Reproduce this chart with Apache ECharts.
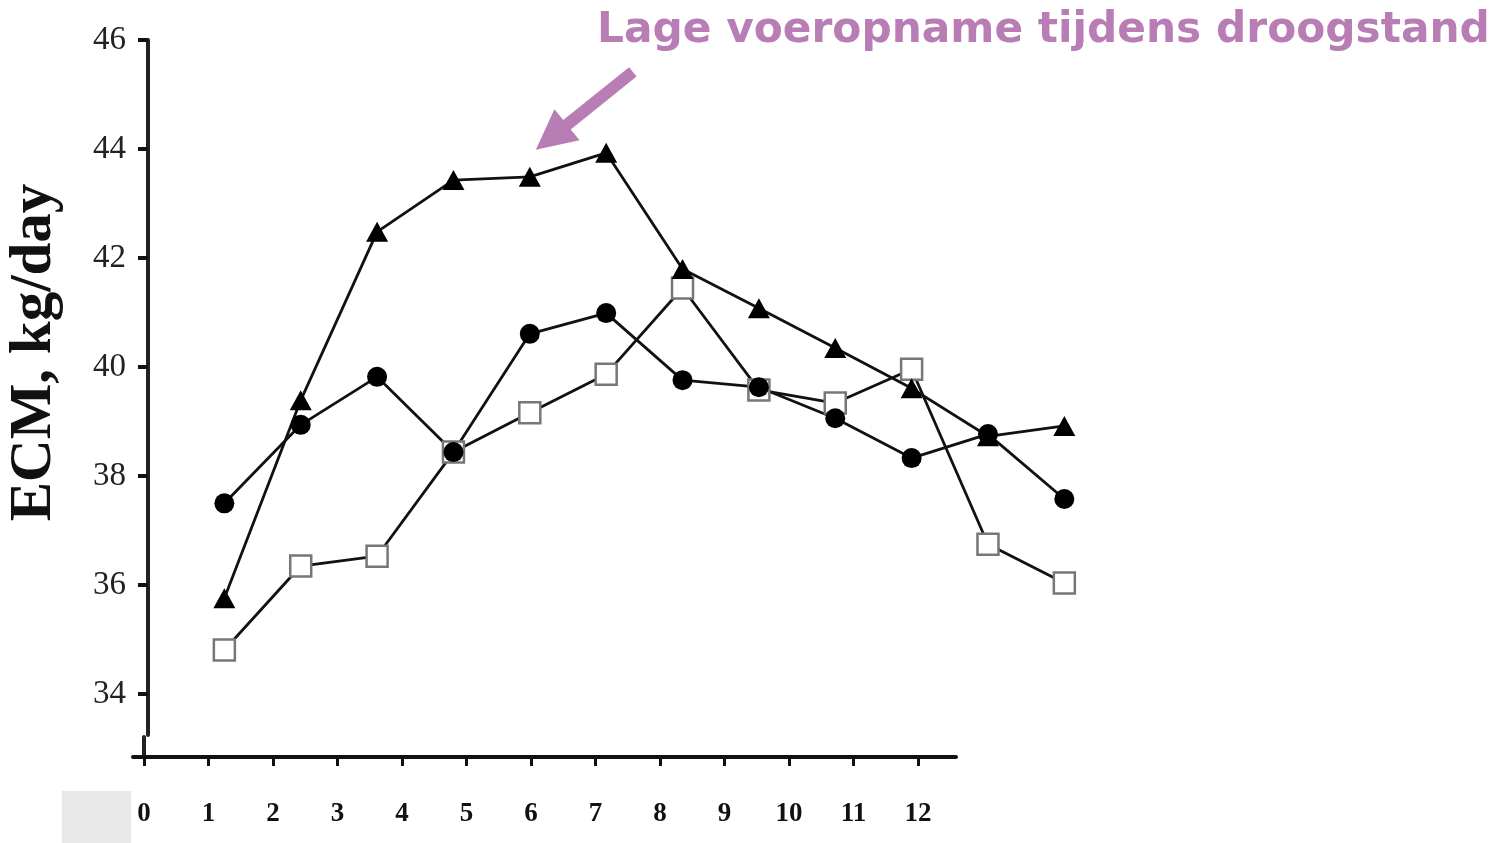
<!DOCTYPE html>
<html>
<head>
<meta charset="utf-8">
<script src="https://cdn.jsdelivr.net/npm/echarts@6/dist/echarts.min.js"></script>
<style>
  html, body { margin: 0; padding: 0; background: #fff; }
  #chart { width: 1497px; height: 843px; }
</style>
</head>
<body>
<div id="chart"></div>
<script>
// Week numbers of the three lactation curves
const weeks = [1, 2, 3, 4, 5, 6, 7, 8, 9, 10, 11, 12];
// ECM (kg/day) per group
const lowIntake = [35.76, 39.39, 42.48, 43.43, 43.49, 43.93, 41.80, 41.08, 40.35, 39.61, 38.73, 38.92]; // filled triangles
const groupCircle = [37.50, 38.94, 39.82, 38.44, 40.61, 40.99, 39.76, 39.63, 39.06, 38.33, 38.77, 37.58]; // filled circles
const groupSquare = [34.81, 36.35, 36.53, 38.44, 39.16, 39.87, 41.45, 39.58, 39.34, 39.96, 36.75, 36.04]; // open squares
// Tick labels
const yTicks = [34, 36, 38, 40, 42, 44, 46];
const xTicks = [0, 1, 2, 3, 4, 5, 6, 7, 8, 9, 10, 11, 12];

const titleText = 'Lage voeropname tijdens droogstand';
const yName = 'ECM, kg/day';
const purple = '#b97db6';

const pairs = vals => weeks.map((w, i) => [w, vals[i]]);

const chart = echarts.init(document.getElementById('chart'), null, { renderer: 'canvas' });

const lineBase = {
  type: 'line',
  xAxisIndex: 0,
  yAxisIndex: 0,
  clip: false,
  lineStyle: { color: '#111', width: 2.8 },
  animation: false
};

const grayBox = { type: 'rect', left: 62, top: 791, shape: { width: 69, height: 52 }, style: { fill: '#e8e8e8' }, silent: true };

chart.setOption({
  backgroundColor: '#fff',
  animation: false,
  title: {
    text: titleText,
    left: 597,
    top: 10,
    padding: 0,
    textStyle: { color: purple, fontFamily: 'DejaVu Sans', fontWeight: 'bold', fontSize: 42.3 }
  },
  grid: [
    // plotting area with the value axis
    { left: 148, top: 40, height: 695, right: 356.3, outerBoundsMode: 'none', containLabel: false },
    // week axis underneath
    { left: 133, top: 737, height: 20, width: 823, outerBoundsMode: 'none', containLabel: false }
  ],
  xAxis: [
    { type: 'value', gridIndex: 0, min: 0, max: 13, show: false },
    {
      type: 'value', gridIndex: 1, min: -0.17, max: 12.59,
      axisLine: { show: true, onZero: false, lineStyle: { color: '#111', width: 4 } },
      axisTick: { show: true, customValues: xTicks, length: 9, lineStyle: { color: '#111', width: 3 } },
      axisLabel: {
        customValues: xTicks, margin: 44, color: '#111',
        fontFamily: 'Liberation Serif', fontWeight: 'bold', fontSize: 27
      },
      splitLine: { show: false }
    }
  ],
  yAxis: [
    {
      type: 'value', gridIndex: 0, min: 33.25, max: 46,
      name: yName, nameLocation: 'middle', nameGap: 84, nameRotate: 90,
      nameTextStyle: {
        color: '#111', fontFamily: 'Liberation Serif', fontWeight: 'bold', fontSize: 59,
        padding: [0, 0, 0, 70]
      },
      axisLine: { show: true, onZero: false, lineStyle: { color: '#222', width: 4 } },
      axisTick: { show: true, customValues: yTicks, length: 10, lineStyle: { color: '#111', width: 4 } },
      axisLabel: {
        customValues: yTicks, margin: 22, color: '#222',
        fontFamily: 'Liberation Serif', fontSize: 33
      },
      splitLine: { show: false }
    },
    {
      type: 'value', gridIndex: 1, min: 0, max: 1,
      axisLine: { show: true, onZero: true, lineStyle: { color: '#222', width: 4 } },
      axisTick: { show: false }, axisLabel: { show: false }, splitLine: { show: false }
    }
  ],
  series: [
    Object.assign({}, lineBase, {
      name: 'Open vierkant',
      data: pairs(groupSquare),
      symbol: 'rect', symbolSize: 21,
      itemStyle: { color: '#fff', borderColor: '#777', borderWidth: 2.5 }
    }),
    Object.assign({}, lineBase, {
      name: 'Lage voeropname',
      data: pairs(lowIntake),
      symbol: 'triangle', symbolSize: [22, 20],
      itemStyle: { color: '#000', borderWidth: 0 }
    }),
    Object.assign({}, lineBase, {
      name: 'Gesloten cirkel',
      data: pairs(groupCircle),
      symbol: 'circle', symbolSize: 20,
      itemStyle: { color: '#000', borderWidth: 0 }
    })
  ],
  graphic: [grayBox]
});

// Arrow pointing at the week-5 low-intake point
const pt = chart.convertToPixel({ gridIndex: 0 }, [5, lowIntake[4]]);
const tip = [pt[0] + 6, pt[1] - 27];
const tail = [tip[0] + 97, tip[1] - 78];
const dx = tail[0] - tip[0], dy = tail[1] - tip[1];
const len = Math.hypot(dx, dy);
const ux = dx / len, uy = dy / len;   // from tip towards tail
const nx = -uy, ny = ux;              // perpendicular
const headLen = 40, headHalf = 20, shaftHalf = 6;
const base = [tip[0] + ux * headLen, tip[1] + uy * headLen];
const arrowPts = [
  tip,
  [base[0] + nx * headHalf, base[1] + ny * headHalf],
  [base[0] + nx * shaftHalf, base[1] + ny * shaftHalf],
  [tail[0] + nx * shaftHalf, tail[1] + ny * shaftHalf],
  [tail[0] - nx * shaftHalf, tail[1] - ny * shaftHalf],
  [base[0] - nx * shaftHalf, base[1] - ny * shaftHalf],
  [base[0] - nx * headHalf, base[1] - ny * headHalf]
];
chart.setOption({
  graphic: [
    grayBox,
    { type: 'polygon', shape: { points: arrowPts }, style: { fill: purple }, z: 10, silent: true }
  ]
});
</script>
</body>
</html>
